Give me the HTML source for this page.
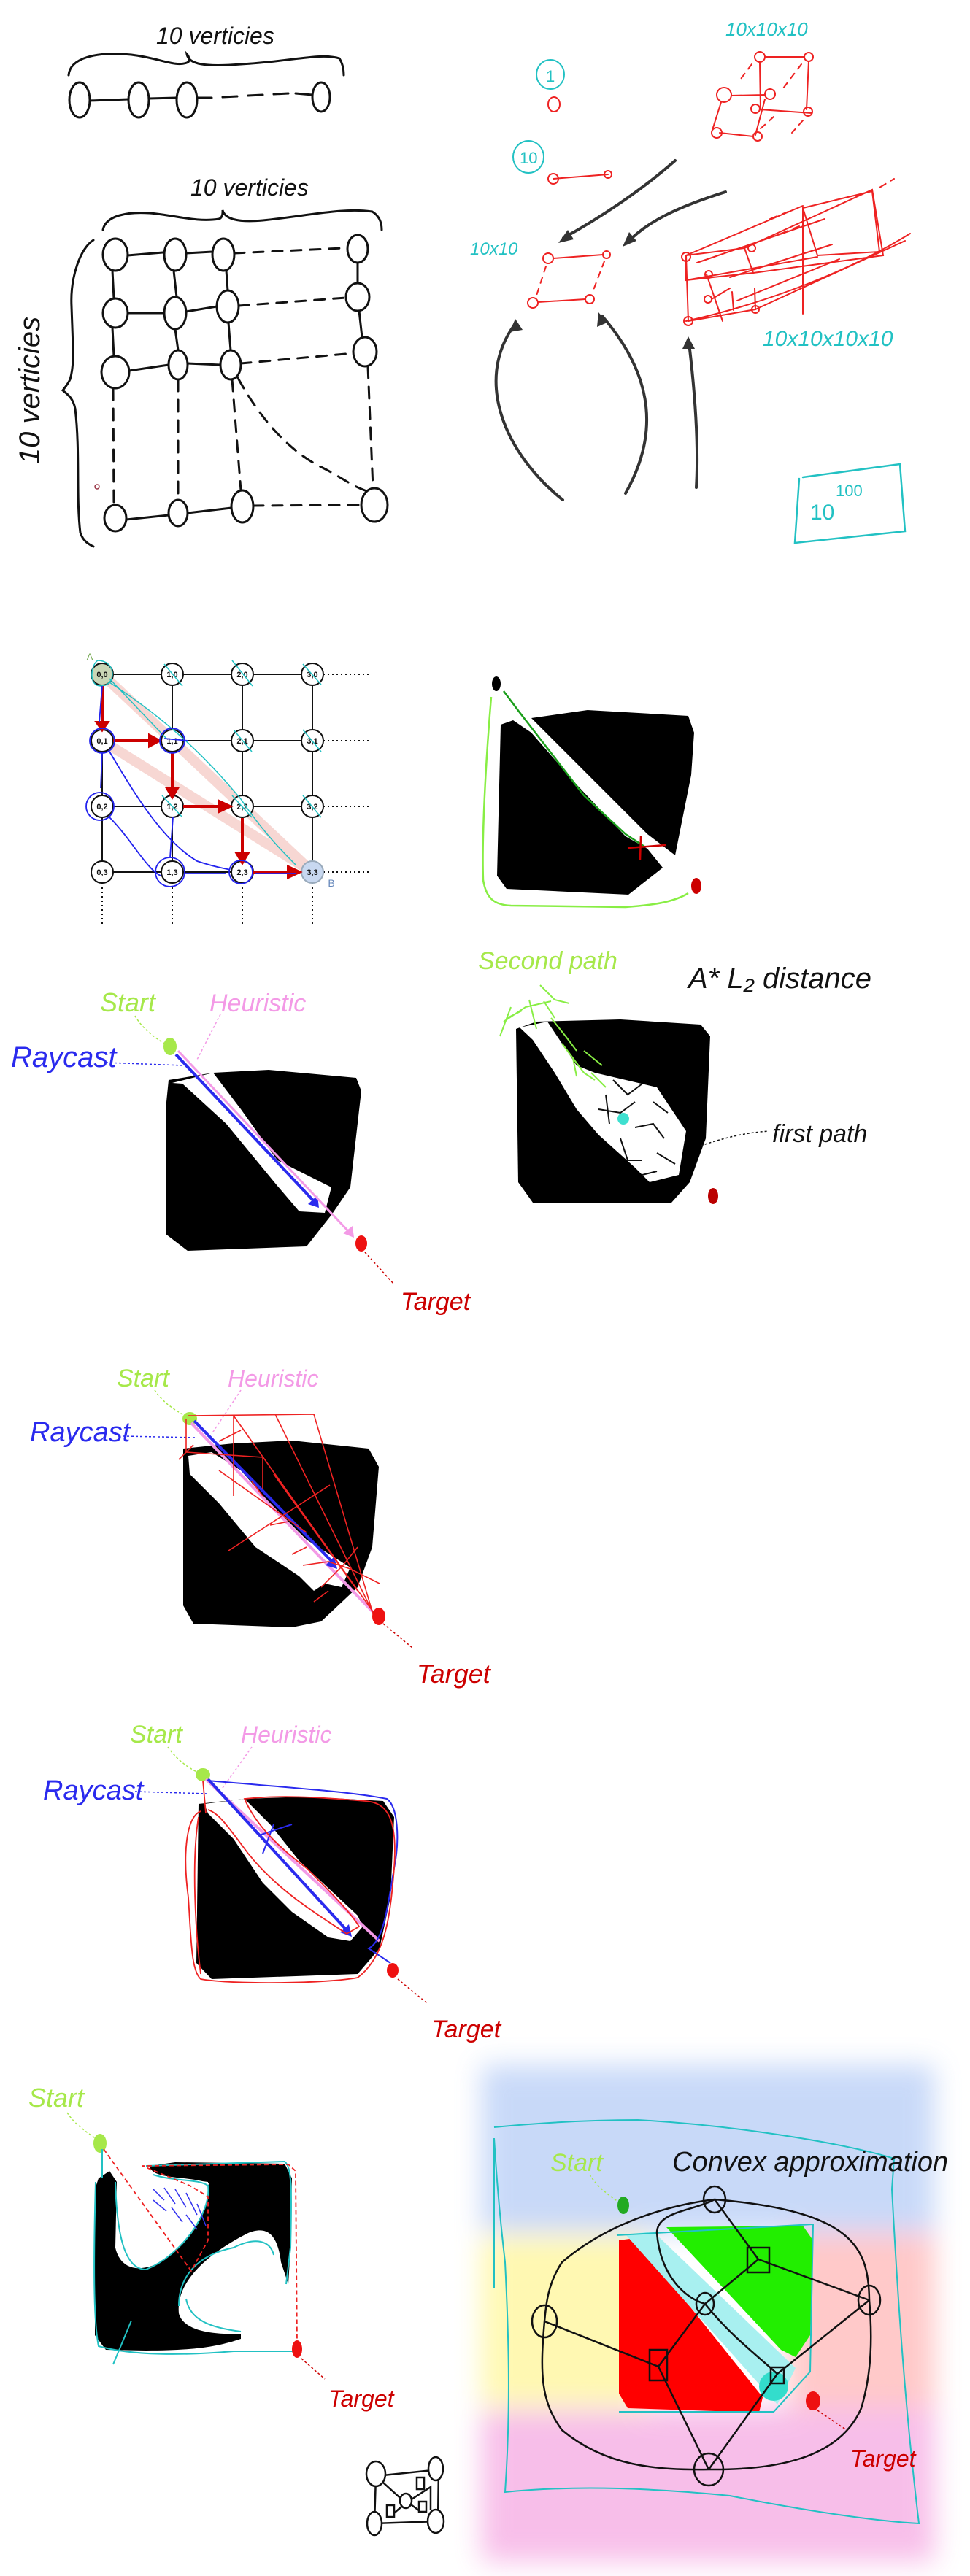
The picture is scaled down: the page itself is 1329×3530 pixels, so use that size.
<!DOCTYPE html>
<html><head><meta charset="utf-8"><style>
html,body{margin:0;padding:0;background:#fff;}
svg{display:block}
text{font-family:"Liberation Sans",sans-serif;}
</style></head><body>
<svg width="1329" height="3530" viewBox="0 0 1329 3530" xmlns="http://www.w3.org/2000/svg">
<defs>
<filter id="blur" x="-20%" y="-20%" width="140%" height="140%"><feGaussianBlur stdDeviation="18"/></filter>
</defs>
<rect width="1329" height="3530" fill="#fff"/>

<!-- ===== Section 1 ===== -->
<g fill="none" stroke="#111" stroke-width="3" stroke-linecap="round">
<text x="214" y="60" font-size="32" fill="#111" stroke="none" font-style="italic">10 verticies</text>
<path d="M94,103 C96,80 130,70 180,75 C220,80 240,92 256,86 C262,84 258,76 256,74 C258,88 280,92 330,88 C400,84 440,72 465,80 C470,88 471,96 471,103"/>
<ellipse cx="109" cy="137" rx="14" ry="24"/>
<ellipse cx="190" cy="137" rx="14" ry="24"/>
<ellipse cx="256" cy="137" rx="14" ry="24"/>
<ellipse cx="440" cy="133" rx="12" ry="20"/>
<path d="M123,138 L176,136 M204,135 L242,134"/>
<path d="M270,134 L290,134 M305,133 L325,132 M340,131 L360,130 M375,129 L395,128 M405,128 L428,130"/>

<text x="261" y="268" font-size="32" fill="#111" stroke="none" font-style="italic">10 verticies</text>
<path d="M141,315 C145,295 175,290 205,292 C240,295 270,305 300,300 C306,298 305,290 305,288 C308,300 325,305 360,302 C420,296 470,284 510,290 C520,296 523,305 523,315"/>
<path d="M128,329 C110,340 96,380 98,420 C100,480 102,500 96,520 C92,528 88,532 86,535 C92,540 100,545 103,560 C110,620 104,680 110,730 C114,742 122,746 128,749"/>
<text transform="translate(54,535) rotate(-90)" font-size="40" text-anchor="middle" fill="#111" stroke="none" font-style="italic">10 verticies</text>
<g>
<ellipse cx="158" cy="349" rx="17" ry="22"/><ellipse cx="240" cy="349" rx="15" ry="22"/><ellipse cx="306" cy="349" rx="15" ry="22"/><ellipse cx="490" cy="341" rx="14" ry="19"/>
<ellipse cx="158" cy="429" rx="17" ry="20"/><ellipse cx="240" cy="429" rx="15" ry="22"/><ellipse cx="312" cy="420" rx="15" ry="22"/><ellipse cx="490" cy="407" rx="16" ry="19"/>
<ellipse cx="158" cy="510" rx="19" ry="22"/><ellipse cx="244" cy="500" rx="13" ry="20"/><ellipse cx="316" cy="500" rx="14" ry="20"/><ellipse cx="500" cy="482" rx="16" ry="20"/>
<ellipse cx="158" cy="710" rx="15" ry="18"/><ellipse cx="244" cy="703" rx="13" ry="18"/><ellipse cx="332" cy="694" rx="15" ry="22"/><ellipse cx="513" cy="692" rx="18" ry="23"/>
</g>
<path d="M175,350 L223,346 M255,347 L291,345 M175,429 L223,429 M255,427 L297,420 M177,508 L231,500 M257,498 L302,500"/>
<path d="M321,347 L470,340 M327,419 L474,408 M330,498 L484,484 M347,693 L495,692" stroke-dasharray="14,12"/>
<path d="M154,371 L156,409 M238,371 L242,407 M310,371 L312,398 M490,360 L490,388 M154,449 L156,488 M240,451 L244,480 M313,442 L316,480 M492,426 L496,462"/>
<path d="M155,532 L156,692 M244,520 L244,685 M318,520 L330,672 M504,502 L511,669 M326,518 C360,580 400,620 440,640 C470,655 480,665 500,672" stroke-dasharray="16,12"/>
<path d="M173,712 L231,706 M257,703 L317,696"/>
<circle cx="133" cy="667" r="3" stroke="#934" stroke-width="1.5"/>
</g>

<g fill="none" stroke-linecap="round">
<text x="994" y="49" font-size="26" fill="#22c1c3" font-style="italic">10x10x10</text>
<ellipse cx="754" cy="102" rx="19" ry="20" stroke="#22c1c3" stroke-width="2"/>
<text x="748" y="112" font-size="22" fill="#22c1c3">1</text>
<ellipse cx="759" cy="143" rx="8" ry="10" stroke="#e22" stroke-width="2"/>
<ellipse cx="724" cy="215" rx="21" ry="22" stroke="#22c1c3" stroke-width="2"/>
<text x="712" y="224" font-size="22" fill="#22c1c3">10</text>
<path d="M758,245 L833,239" stroke="#e22" stroke-width="2"/>
<circle cx="758" cy="245" r="7" stroke="#e22" stroke-width="2"/><circle cx="833" cy="239" r="5" stroke="#e22" stroke-width="2"/>
<g stroke="#e22" stroke-width="2">
<circle cx="1041" cy="78" r="7"/><circle cx="1108" cy="78" r="6"/><circle cx="992" cy="130" r="10"/><circle cx="1055" cy="129" r="7"/><circle cx="1035" cy="149" r="6"/><circle cx="1107" cy="153" r="6"/><circle cx="982" cy="182" r="7"/><circle cx="1038" cy="187" r="6"/>
<path d="M1048,78 L1102,78 M1041,85 L1042,150 M1108,84 L1105,150 M1002,131 L1048,130 M1041,150 L1112,155 M986,182 L1032,187 M1048,136 L1035,185 M988,140 L976,178"/>
<path d="M1030,88 L1015,108 M1098,88 L1070,125 M1060,160 L1040,178 M1100,165 L1085,182" stroke-dasharray="8,8"/>
</g>
<text x="644" y="349" font-size="24" fill="#22c1c3" font-style="italic">10x10</text>
<g stroke="#e22" stroke-width="2">
<circle cx="751" cy="354" r="7"/><circle cx="831" cy="349" r="5"/><circle cx="730" cy="415" r="7"/><circle cx="808" cy="410" r="6"/>
<path d="M758,354 L826,349 M737,414 L802,410"/>
<path d="M748,365 L735,405 M828,358 L812,400" stroke-dasharray="8,8"/>
</g>
<g stroke="#333" stroke-width="4">
<path d="M925,220 C880,260 820,300 772,326"/>
<path d="M994,263 C940,280 890,300 860,332"/>
<path d="M771,685 C690,620 650,520 705,445"/>
<path d="M857,676 C900,600 900,520 825,433"/>
<path d="M954,668 C958,600 950,520 944,470"/>
</g>
<g fill="#333">
<path d="M765,333 L778,315 L786,328Z"/><path d="M853,338 L862,318 L872,330Z"/>
<path d="M706,437 L698,455 L716,452Z"/><path d="M820,428 L818,448 L832,442Z"/><path d="M943,461 L935,478 L952,478Z"/>
</g>
<g stroke="#e22" stroke-width="2">
<path d="M940,350 L1020,340 L1032,374 L940,384 Z M1020,340 L1195,260 L1210,350 L1032,374"/>
<path d="M1100,285 L1195,262 L1205,345 L1120,350 Z M1100,285 L1100,430"/>
<path d="M940,350 L1100,282 M940,384 L1120,352 M943,440 L1035,424 L1034,395 M1035,424 L1240,330"/>
<path d="M968,376 L990,440 M1003,400 L1005,425 M975,410 L1000,395 M940,350 L943,440"/>
<path d="M955,360 L1130,300 M1000,380 L1140,335 M1010,412 L1150,355 M940,440 C1030,420 1150,380 1247,320"/>
<circle cx="940" cy="352" r="6"/><circle cx="1030" cy="340" r="5"/><circle cx="971" cy="376" r="5"/><circle cx="970" cy="410" r="5"/><circle cx="1035" cy="424" r="5"/><circle cx="943" cy="440" r="6"/>
<path d="M1205,257 L1225,245 M1055,300 L1080,290 M1070,320 L1095,310" stroke-dasharray="10,8"/>
</g>
<text x="1045" y="474" font-size="30" fill="#22c1c3" font-style="italic">10x10x10x10</text>
<path d="M1100,654 L1233,636 L1240,728 L1089,744 L1095,656" stroke="#22c1c3" stroke-width="2.5"/>
<text x="1110" y="712" font-size="30" fill="#22c1c3">10</text>
<text x="1145" y="680" font-size="22" fill="#22c1c3">100</text>
</g>

<!-- ===== Section 2: grid ===== -->
<g font-size="11" font-weight="bold" text-anchor="middle">
<path d="M140,924 H428 M140,1015 H428 M140,1105 H428 M140,1195 H428 M140,924 V1195 M236,924 V1195 M332,924 V1195 M428,924 V1195" stroke="#111" stroke-width="2" fill="none"/>
<path d="M443,924 H505 M443,1015 H505 M443,1105 H505 M443,1195 H505 M140,1210 V1267 M236,1210 V1267 M332,1210 V1267 M428,1210 V1267" stroke="#111" stroke-width="2" stroke-dasharray="2,4" fill="none"/>
<path d="M140,924 L428,1195 M140,1015 L428,1195" stroke="#f0b0a8" stroke-width="14" opacity="0.5" fill="none"/>
<g stroke="#111" stroke-width="2" fill="#fff">
<circle cx="140" cy="924" r="15" fill="#c9d6b6"/><circle cx="236" cy="924" r="15"/><circle cx="332" cy="924" r="15"/><circle cx="428" cy="924" r="15"/>
<circle cx="140" cy="1015" r="15"/><circle cx="236" cy="1015" r="15"/><circle cx="332" cy="1015" r="15"/><circle cx="428" cy="1015" r="15"/>
<circle cx="140" cy="1105" r="15"/><circle cx="236" cy="1105" r="15"/><circle cx="332" cy="1105" r="15"/><circle cx="428" cy="1105" r="15"/>
<circle cx="140" cy="1195" r="15"/><circle cx="236" cy="1195" r="15"/><circle cx="332" cy="1195" r="15"/><circle cx="428" cy="1195" r="15" fill="#c8d8f0" stroke="#9ab"/>
</g>
<g fill="#111">
<text x="140" y="928">0,0</text><text x="236" y="928">1,0</text><text x="332" y="928">2,0</text><text x="428" y="928">3,0</text>
<text x="140" y="1019">0,1</text><text x="236" y="1019">1,1</text><text x="332" y="1019">2,1</text><text x="428" y="1019">3,1</text>
<text x="140" y="1109">0,2</text><text x="236" y="1109">1,2</text><text x="332" y="1109">2,2</text><text x="428" y="1109">3,2</text>
<text x="140" y="1199">0,3</text><text x="236" y="1199">1,3</text><text x="332" y="1199">2,3</text><text x="428" y="1199">3,3</text>
</g>
<text x="123" y="905" font-size="14" font-weight="normal" fill="#7a5">A</text>
<text x="454" y="1215" font-size="14" font-weight="normal" fill="#68b">B</text>
<path d="M150,935 C250,1000 300,1060 330,1095 C360,1140 390,1170 405,1185 M150,930 L228,1012" stroke="#22c1c3" stroke-width="1.5" fill="none"/>
<g stroke="#22c1c3" stroke-width="1.5" fill="none">
<path d="M225,910 L250,940 M318,905 L346,940 M415,910 L440,938 M320,1000 L345,1030 M415,1000 L440,1030 M222,1090 L250,1120 M318,1090 L345,1120 M415,1090 L440,1120 M134,905 C160,905 160,940 138,940 C120,940 125,910 134,905"/>
</g>
<g stroke="#c00" stroke-width="4" fill="#c00">
<path d="M140,940 V990"/><path d="M133,990 L147,990 L140,1000Z"/>
<path d="M155,1015 H205"/><path d="M205,1008 L205,1022 L218,1015Z"/>
<path d="M236,1031 V1080"/><path d="M229,1080 L243,1080 L236,1092Z"/>
<path d="M251,1105 H300"/><path d="M300,1098 L300,1112 L315,1105Z"/>
<path d="M332,1121 V1170"/><path d="M325,1170 L339,1170 L332,1182Z"/>
<path d="M347,1195 H395"/><path d="M395,1188 L395,1202 L410,1195Z"/>
</g>
<g stroke="#22e" stroke-width="1.8" fill="none">
<circle cx="140" cy="1015" r="17"/><circle cx="137" cy="1105" r="19"/><circle cx="233" cy="1195" r="20"/><circle cx="330" cy="1195" r="16"/><circle cx="236" cy="1015" r="17"/>
<path d="M140,940 L136,990 M140,1030 L138,1080 M150,1030 C180,1080 220,1150 270,1180 C300,1190 310,1190 315,1192 M150,1120 C180,1150 200,1190 220,1200 M237,1120 L233,1175 M252,1197 H310 M350,1197 H405 M225,1012 L258,1015"/>
</g>
</g>

<g>
<path d="M686,993 L703,987 L728,1004 L788,1073 L857,1146 L887,1163 L908,1189 L861,1226 L694,1218 L681,1200 Z" fill="#000"/>
<path d="M728,984 L805,973 L943,981 L951,1004 L947,1062 L925,1172 L887,1143 L823,1079 Z" fill="#000"/>
<path d="M673,955 C665,1050 660,1150 662,1206 C666,1230 676,1240 700,1241 L857,1243 C900,1240 925,1235 943,1224" stroke="#8e4" stroke-width="2.5" fill="none"/>
<path d="M690,947 L711,975 L800,1090 L857,1143 L883,1160" stroke="#1a9e1a" stroke-width="2.5" fill="none"/>
<path d="M860,1162 L912,1158 M878,1145 L877,1178" stroke="#c00" stroke-width="2.5"/>
<ellipse cx="680" cy="937" rx="6" ry="10" fill="#000"/>
<ellipse cx="954" cy="1214" rx="7" ry="11" fill="#c00"/>
</g>

<!-- Raycast 1 -->
<g font-style="italic">
<text x="137" y="1386" font-size="36" fill="#a6e84a">Start</text>
<text x="287" y="1386" font-size="34" fill="#f39ae6">Heuristic</text>
<text x="15" y="1462" font-size="40" fill="#2a2aee">Raycast</text>
<path d="M185,1392 C195,1410 215,1425 233,1434" stroke="#a6e84a" stroke-width="1.5" stroke-dasharray="3,3" fill="none"/>
<path d="M302,1390 L270,1452" stroke="#f39ae6" stroke-width="1.5" stroke-dasharray="3,3"/>
<path d="M145,1456 L250,1460" stroke="#2a2aee" stroke-width="1.5" stroke-dasharray="3,3"/>
<path d="M231,1480 L292,1470 L368,1466 L488,1477 L495,1495 L480,1627 L454,1665 L420,1708 L257,1714 L227,1691 L228,1510 Z" fill="#000"/>
<path d="M236,1484 L292,1470 L330,1520 L380,1590 L454,1627 L445,1662 L410,1660 L380,1625 L310,1540 L250,1485 Z" fill="#fff"/>
<ellipse cx="233" cy="1434" rx="9" ry="12" fill="#a6e84a"/>
<path d="M241,1445 L430,1646" stroke="#2a2aee" stroke-width="4"/><path d="M422,1650 L437,1655 L435,1638Z" fill="#2a2aee"/>
<path d="M244,1440 L478,1688" stroke="#f39ae6" stroke-width="3"/><path d="M470,1690 L485,1696 L483,1680Z" fill="#f39ae6"/>
<ellipse cx="495" cy="1704" rx="8" ry="11" fill="#e11"/>
<path d="M500,1716 L540,1760" stroke="#c00" stroke-width="1.5" stroke-dasharray="3,3"/>
<text x="549" y="1795" font-size="34" fill="#c00">Target</text>
</g>

<!-- A* L2 -->
<g font-style="italic">
<text x="655" y="1328" font-size="34" fill="#a6e84a">Second path</text>
<text x="943" y="1354" font-size="40" fill="#111">A* L₂ distance</text>
<path d="M707,1410 L735,1400 L850,1397 L960,1404 L973,1420 L967,1560 L945,1620 L920,1648 L730,1648 L710,1620 Z" fill="#000"/>
<path d="M712,1408 L750,1400 L790,1460 L815,1470 L900,1490 L940,1550 L930,1610 L890,1620 L870,1600 L820,1555 L790,1520 L760,1470 L730,1425 Z" fill="#fff"/>
<g stroke="#111" stroke-width="2" fill="none">
<path d="M840,1480 L860,1500 L880,1485 M820,1520 L850,1525 L870,1510 M870,1545 L895,1540 L910,1560 M850,1560 L860,1590 L880,1590 M900,1580 L925,1595 M880,1610 L900,1605 M895,1510 L915,1525 M830,1500 L835,1540"/>
</g>
<g stroke="#8e4" stroke-width="2" fill="none">
<path d="M690,1400 L720,1380 L755,1372 M700,1380 L685,1420 M725,1370 L735,1410 M745,1372 L760,1395 M755,1395 L775,1420 L790,1440 M770,1430 L800,1470 L815,1480 M785,1450 L790,1475 M800,1440 L825,1460 M810,1470 L830,1490 M740,1350 L760,1370 L780,1375 M715,1385 L695,1395"/>
</g>
<circle cx="854" cy="1533" r="8" fill="#3ee0d0"/>
<path d="M960,1570 C990,1560 1020,1552 1054,1550" stroke="#111" stroke-width="1.5" stroke-dasharray="3,3" fill="none"/>
<text x="1058" y="1565" font-size="34" fill="#111">first path</text>
<ellipse cx="977" cy="1639" rx="7" ry="11" fill="#b00"/>
</g>

<!-- Raycast 2 -->
<g font-style="italic">
<text x="160" y="1900" font-size="34" fill="#a6e84a">Start</text>
<text x="312" y="1900" font-size="32" fill="#f39ae6">Heuristic</text>
<text x="41" y="1975" font-size="38" fill="#2a2aee">Raycast</text>
<path d="M212,1905 C225,1925 245,1935 260,1944" stroke="#a6e84a" stroke-width="1.5" stroke-dasharray="3,3" fill="none"/>
<path d="M330,1905 L290,1965" stroke="#f39ae6" stroke-width="1.5" stroke-dasharray="3,3"/>
<path d="M168,1968 L270,1970" stroke="#2a2aee" stroke-width="1.5" stroke-dasharray="3,3"/>
<path d="M251,1985 L320,1978 L400,1974 L505,1985 L519,2010 L510,2120 L490,2175 L440,2222 L400,2230 L265,2225 L251,2200 Z" fill="#000"/>
<path d="M258,1995 L290,1990 L330,2015 L365,2055 L420,2110 L480,2148 L468,2175 L445,2170 L430,2180 L410,2160 L350,2120 L300,2060 L260,2020 Z" fill="#fff"/>
<ellipse cx="260" cy="1944" rx="10" ry="9" fill="#a6e84a"/>
<path d="M262,1950 L510,2208" stroke="#f39ae6" stroke-width="4"/>
<path d="M266,1947 L455,2140" stroke="#2a2aee" stroke-width="4"/><path d="M446,2145 L462,2150 L458,2133Z" fill="#2a2aee"/>
<g stroke="#e22" stroke-width="1.6" fill="none">
<path d="M258,1940 L430,1938 M320,1940 L512,2210 M377,1938 L512,2212 M430,1938 L512,2215 M255,1990 L360,1997 L360,2040 M255,1945 L255,1990 M320,1940 L320,2050 M375,2020 L490,2180 M313,2125 L452,2035 M300,2015 L420,2100 M245,2000 L265,1980 M345,2030 L360,2050 M370,2090 L395,2085 M400,2130 L420,2120 M415,2145 L450,2140 L480,2150 L520,2170 M440,2175 L470,2145 L490,2120 M430,2195 L450,2180 M300,1975 L330,1960"/>
</g>
<ellipse cx="519" cy="2215" rx="9" ry="12" fill="#e11"/>
<path d="M525,2225 L565,2258" stroke="#c00" stroke-width="1.5" stroke-dasharray="3,3"/>
<text x="571" y="2306" font-size="36" fill="#c00">Target</text>
</g>

<!-- Raycast 3 -->
<g font-style="italic">
<text x="178" y="2388" font-size="34" fill="#a6e84a">Start</text>
<text x="330" y="2388" font-size="32" fill="#f39ae6">Heuristic</text>
<text x="59" y="2466" font-size="38" fill="#2a2aee">Raycast</text>
<path d="M230,2394 C245,2415 262,2425 278,2432" stroke="#a6e84a" stroke-width="1.5" stroke-dasharray="3,3" fill="none"/>
<path d="M345,2394 L305,2450" stroke="#f39ae6" stroke-width="1.5" stroke-dasharray="3,3"/>
<path d="M185,2455 L285,2458" stroke="#2a2aee" stroke-width="1.5" stroke-dasharray="3,3"/>
<path d="M272,2472 L335,2465 L420,2462 L525,2468 L540,2490 L535,2600 L520,2670 L490,2705 L290,2712 L269,2690 Z" fill="#000"/>
<path d="M280,2472 L335,2465 L370,2500 L410,2550 L490,2625 L497,2640 L480,2660 L450,2655 L400,2620 L360,2580 L320,2520 L285,2485 Z" fill="#fff"/>
<ellipse cx="278" cy="2432" rx="10" ry="9" fill="#a6e84a"/>
<path d="M282,2438 L520,2660" stroke="#f39ae6" stroke-width="4"/>
<path d="M285,2438 L475,2645" stroke="#2a2aee" stroke-width="4"/><path d="M466,2648 L482,2654 L478,2637Z" fill="#2a2aee"/>
<path d="M285,2440 C400,2450 480,2455 530,2465 C545,2475 548,2520 540,2560 C530,2620 525,2660 505,2670 L535,2690" stroke="#2a2aee" stroke-width="2" fill="none"/>
<path d="M360,2540 L375,2500 M355,2515 L400,2500" stroke="#2a2aee" stroke-width="2" fill="none"/>
<g stroke="#e22" stroke-width="1.8" fill="none">
<path d="M278,2440 L282,2485 M275,2482 C255,2490 250,2540 258,2600 C262,2660 262,2700 275,2712 C320,2720 450,2718 490,2710 C530,2680 535,2620 540,2560 C545,2490 530,2470 500,2468 C430,2462 380,2460 335,2465 C350,2500 380,2530 420,2560 C450,2590 480,2620 492,2640 L475,2650 C430,2620 380,2590 340,2540 C310,2500 300,2485 285,2480"/>
<path d="M272,2490 C262,2550 268,2650 275,2705"/>
</g>
<ellipse cx="538" cy="2700" rx="8" ry="10" fill="#e11"/>
<path d="M545,2712 L585,2745" stroke="#c00" stroke-width="1.5" stroke-dasharray="3,3"/>
<text x="591" y="2792" font-size="34" fill="#c00">Target</text>
</g>

<!-- Section 4 left -->
<g font-style="italic">
<text x="39" y="2887" font-size="36" fill="#a6e84a">Start</text>
<path d="M92,2895 C105,2915 125,2925 137,2935" stroke="#a6e84a" stroke-width="1.5" stroke-dasharray="3,3" fill="none"/>
<ellipse cx="137" cy="2937" rx="9" ry="13" fill="#a6e84a"/>
<path d="M135,2985 L150,2975 L160,2990 L158,3080 C165,3110 190,3115 220,3100 C260,3075 290,3030 285,2990 L205,2980 L205,2968 L240,2963 L390,2965 L400,2985 L398,3080 L395,3130 L385,3100 C380,3060 365,3050 340,3060 C300,3080 240,3120 245,3170 C250,3190 280,3200 330,3198 L330,3205 C300,3215 270,3221 200,3221 L145,3220 L130,3200 L130,3000 Z" fill="#000"/>
<path d="M205,2975 C215,2990 265,2985 285,2995" stroke="#fff" stroke-width="6" fill="none"/>
<g stroke="#22c1c3" stroke-width="2" fill="none">
<path d="M140,2945 L140,2985 M131,2990 C128,3100 128,3180 135,3215 C180,3228 250,3228 320,3222 L405,3222 M200,2968 L390,2962 C400,2970 400,3000 398,3080 L392,3130 M158,2990 C160,3060 170,3110 200,3110 C250,3090 290,3030 285,2995 C270,2985 240,2990 210,2980 M245,3160 C245,3120 270,3090 320,3080 C350,3065 370,3070 375,3090 M255,3150 C260,3180 290,3190 330,3195 M180,3180 L155,3240"/>
</g>
<path d="M142,2945 L262,3112 L285,3070 L285,3010 L260,2995 L195,2968 L395,2966 L405,2975 L407,3210" fill="none" stroke="#e22" stroke-width="1.8" stroke-dasharray="6,4"/>
<g stroke="#33e" stroke-width="1.5" fill="none">
<path d="M210,3000 L225,3015 M225,2998 L240,3020 M240,3000 L255,3025 M255,3005 L270,3035 M235,3025 L250,3045 M255,3035 L270,3055 M270,3020 L282,3050 M210,3015 L228,3030"/>
</g>
<ellipse cx="407" cy="3219" rx="7" ry="12" fill="#e11"/>
<path d="M413,3232 L445,3260" stroke="#c00" stroke-width="1.5" stroke-dasharray="3,3"/>
<text x="450" y="3298" font-size="32" fill="#c00">Target</text>
<g stroke="#111" stroke-width="2.5" fill="#fff">
<path d="M515,3393 L593,3385 M515,3393 L513,3458 L600,3455 L601,3385 M515,3393 L556,3430 L590,3408 L590,3440 M556,3430 L535,3448 M560,3430 L578,3443" fill="none"/>
<ellipse cx="515" cy="3390" rx="13" ry="17"/><ellipse cx="597" cy="3383" rx="10" ry="16"/><ellipse cx="513" cy="3458" rx="10" ry="16"/><ellipse cx="597" cy="3455" rx="11" ry="16"/>
<ellipse cx="556" cy="3427" rx="8" ry="10"/>
<rect x="571" y="3395" width="10" height="16"/><rect x="530" y="3433" width="10" height="16"/><rect x="574" y="3428" width="10" height="14"/>
</g>
</g>

<!-- Section 4 right: convex -->
<g>
<g filter="url(#blur)" opacity="0.42">
<rect x="660" y="2830" width="620" height="230" fill="#7ea6f0"/>
<rect x="660" y="3060" width="230" height="240" fill="#fff04a"/>
<rect x="1080" y="3060" width="200" height="240" fill="#ff7f7f"/>
<rect x="660" y="3300" width="620" height="210" fill="#ee66cc"/>
</g>
<path d="M677,2915 C750,2908 820,2905 874,2905 C1000,2912 1150,2935 1225,2958 L1222,3000 C1230,3150 1240,3300 1259,3458 C1200,3455 1100,3440 1000,3420 C900,3410 790,3405 692,3415 C700,3300 697,3200 692,3100 C685,3040 680,2980 677,2930" stroke="#22c1c3" stroke-width="2" fill="none"/>
<path d="M677,2930 L677,3136" stroke="#22c1c3" stroke-width="2"/>
<text x="754" y="2975" font-size="34" fill="#a6e84a" font-style="italic">Start</text>
<text x="921" y="2975" font-size="38" fill="#111" font-style="italic">Convex approximation</text>
<path d="M808,2980 C820,3000 840,3012 854,3022" stroke="#a6e84a" stroke-width="1.5" stroke-dasharray="3,3" fill="none"/>
<ellipse cx="854" cy="3022" rx="8" ry="12" fill="#22aa22"/>
<path d="M848,3070 L870,3067 L1045,3285 L1040,3306 L860,3300 L848,3280 Z" fill="#ff0000"/>
<path d="M913,3052 L1100,3050 L1114,3070 L1110,3200 L1090,3230 L1070,3220 Z" fill="#22ee00"/>
<path d="M857,3062 L895,3058 L1090,3245 L1065,3295 Z" fill="#a8f0f0"/>
<circle cx="1060" cy="3270" r="20" fill="#33ddcc"/>
<path d="M845,3063 L1114,3048 L1110,3250 L1060,3305 L848,3305" stroke="#22c1c3" stroke-width="2" fill="none"/>
<g stroke="#111" stroke-width="2.5" fill="none">
<path d="M979,3014 C930,3020 840,3040 770,3100 C750,3130 748,3160 746,3181 M746,3181 C740,3250 740,3290 770,3330 C830,3380 900,3385 971,3384 M971,3384 C1060,3385 1150,3370 1180,3300 C1195,3250 1195,3200 1191,3152 M1191,3152 C1190,3080 1170,3030 979,3014"/>
<path d="M979,3014 C950,3030 900,3030 900,3060 C905,3120 940,3150 966,3157 M966,3157 L1039,3096 L1191,3152 M979,3014 L1039,3096 M746,3181 L902,3243 L966,3157 M902,3243 L971,3384 M966,3157 C1000,3200 1040,3230 1065,3253 L1191,3152 M1065,3253 L971,3384"/>
<ellipse cx="979" cy="3014" rx="15" ry="18"/><ellipse cx="746" cy="3181" rx="17" ry="22"/><ellipse cx="1191" cy="3152" rx="15" ry="20"/><ellipse cx="971" cy="3384" rx="20" ry="22"/><ellipse cx="966" cy="3157" rx="12" ry="15"/>
<rect x="1024" y="3080" width="30" height="34"/><rect x="890" y="3220" width="24" height="42"/><rect x="1056" y="3244" width="18" height="22"/>
</g>
<ellipse cx="1114" cy="3290" rx="10" ry="13" fill="#e11"/>
<path d="M1120,3303 L1160,3330" stroke="#c00" stroke-width="1.5" stroke-dasharray="3,3"/>
<text x="1165" y="3380" font-size="32" fill="#c00" font-style="italic">Target</text>
</g>
</svg>
</body></html>
